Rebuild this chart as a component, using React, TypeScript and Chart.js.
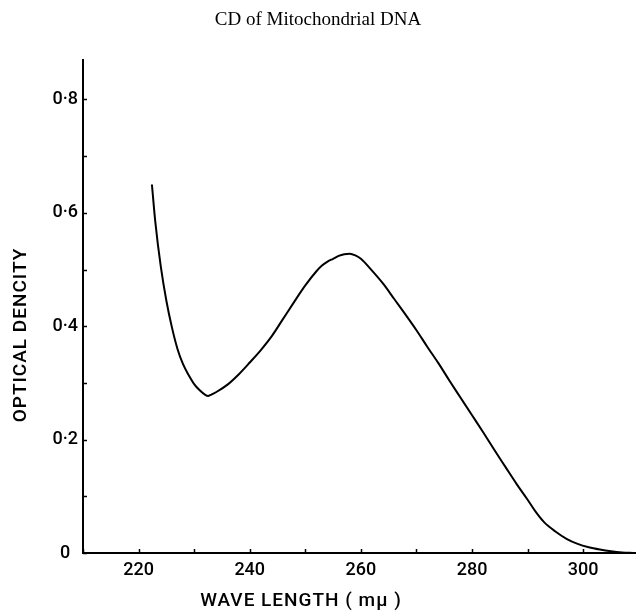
import React, { useEffect, useRef } from 'react';
import { Chart, registerables } from 'chart.js';

Chart.register(...registerables);

// ---- Data ----
const wavelengths = [
  222.4, 223, 224, 225, 226, 227, 228, 229, 230, 231, 232, 232.5, 233, 234, 236, 238,
  240, 242, 244, 246, 248, 250, 252, 253, 254, 255, 256, 257, 258, 259, 260, 262, 264,
  266, 268, 270, 272, 274, 276, 278, 280, 282, 284, 286, 288, 290, 291.5, 293, 295, 297,
  299, 301, 303, 305, 307, 309,
];
const opticalDensity = [
  0.65, 0.585, 0.505, 0.445, 0.398, 0.36, 0.333, 0.314, 0.298, 0.287, 0.279, 0.277, 0.279, 0.284, 0.297, 0.315,
  0.336, 0.358, 0.383, 0.413, 0.443, 0.472, 0.497, 0.507, 0.514, 0.519, 0.524, 0.527, 0.528, 0.525, 0.519, 0.498, 0.475,
  0.448, 0.421, 0.393, 0.363, 0.334, 0.303, 0.273, 0.243, 0.213, 0.182, 0.152, 0.122, 0.094, 0.072, 0.054, 0.038, 0.025,
  0.016, 0.01, 0.006, 0.003, 0.001, 0.0,
];

const xTickValues = [220, 240, 260, 280, 300];
const xTickLabels = ['220', '240', '260', '280', '300'];
const yTickValues = [0, 0.2, 0.4, 0.6, 0.8];
const yTickLabels = ['0', '0·2', '0·4', '0·6', '0·8'];

const chartTitle = 'CD of Mitochondrial DNA';
const xAxisTitle = 'WAVE LENGTH ( mμ )';
const yAxisTitle = 'OPTICAL DENCITY';

const SANS = 'Roboto, "Liberation Sans", Arial, sans-serif';
const SERIF = '"Liberation Serif", "Times New Roman", serif';

function labelFor(values: number[], labels: string[], v: number): string {
  for (let i = 0; i < values.length; i++) {
    if (Math.abs(values[i] - v) < 1e-6) return labels[i];
  }
  return '';
}

const innerTicks = {
  id: 'innerTicks',
  afterDatasetsDraw(chart: any) {
    const { ctx, chartArea, scales } = chart;
    const x = scales.x;
    const y = scales.y;
    ctx.save();
    ctx.strokeStyle = '#000';
    ctx.lineWidth = 1.5;
    x.ticks.forEach((t: any) => {
      const px = Math.round(x.getPixelForValue(t.value)) + 0.5;
      ctx.beginPath();
      ctx.moveTo(px, chartArea.bottom);
      ctx.lineTo(px, chartArea.bottom - 4);
      ctx.stroke();
    });
    y.ticks.forEach((t: any) => {
      const py = Math.round(y.getPixelForValue(t.value)) + 0.5;
      ctx.beginPath();
      ctx.moveTo(chartArea.left, py);
      ctx.lineTo(chartArea.left + 4, py);
      ctx.stroke();
    });
    ctx.restore();
  },
};

const axisTitlesPlugin = {
  id: 'axisTitlesPlugin',
  afterDraw(chart: any) {
    const { ctx } = chart;
    ctx.save();
    ctx.fillStyle = '#000';
    ctx.font = `500 19px ${SANS}`;
    ctx.textAlign = 'center';
    ctx.textBaseline = 'middle';
    try { (ctx as any).letterSpacing = '1px'; } catch (e) { /* ignore */ }
    ctx.fillText(xAxisTitle, 301, 601);
    ctx.translate(21, 335);
    ctx.rotate(-Math.PI / 2);
    ctx.fillText(yAxisTitle, 0, 0);
    ctx.restore();
  },
};

export default function App() {
  const canvasRef = useRef<HTMLCanvasElement | null>(null);

  useEffect(() => {
    const canvas = canvasRef.current;
    if (!canvas) return;
    const points = wavelengths.map((w, i) => ({ x: w, y: opticalDensity[i] }));
    const chart = new Chart(canvas, {
      type: 'line',
      data: {
        datasets: [
          {
            data: points,
            borderColor: '#000',
            borderWidth: 2,
            pointRadius: 0,
            fill: false,
            cubicInterpolationMode: 'monotone',
          },
        ],
      },
      options: {
        responsive: false,
        animation: false,
        layout: { padding: 0 },
        plugins: {
          legend: { display: false },
          tooltip: { enabled: false },
          title: {
            display: true,
            text: chartTitle,
            color: '#000',
            font: { family: SERIF, size: 19, weight: 'normal' },
            padding: { top: 9, bottom: 28 },
          },
        },
        scales: {
          x: {
            type: 'linear',
            position: 'bottom',
            min: 210,
            max: 309.5,
            grid: { display: false, drawTicks: false },
            border: { display: true, color: '#000', width: 2 },
            ticks: {
              stepSize: 10,
              includeBounds: false,
              autoSkip: false,
              maxRotation: 0,
              padding: 7,
              color: '#000',
              font: { family: SANS, size: 18, weight: '500' },
              callback: (v: any) => labelFor(xTickValues, xTickLabels, Number(v)),
            },
            afterFit(scale: any) {
              scale.height = 58;
            },
          },
          y: {
            type: 'linear',
            position: 'left',
            min: 0,
            max: 0.87,
            grid: { display: false, drawTicks: false },
            border: { display: true, color: '#000', width: 2 },
            ticks: {
              stepSize: 0.1,
              includeBounds: false,
              autoSkip: false,
              crossAlign: 'center',
              padding: 5,
              color: '#000',
              font: { family: SANS, size: 18, weight: '500' },
              callback: (v: any) => labelFor(yTickValues, yTickLabels, Number(v)),
            },
            afterFit(scale: any) {
              scale.width = 83;
            },
          },
        },
      },
      plugins: [innerTicks, axisTitlesPlugin],
    } as any);
    return () => chart.destroy();
  }, []);

  return (
    <div style={{ position: 'absolute', left: 0, top: 0, width: 636, height: 611, background: '#fff' }}>
      <canvas ref={canvasRef} width={636} height={611} style={{ display: 'block' }} />
    </div>
  );
}
